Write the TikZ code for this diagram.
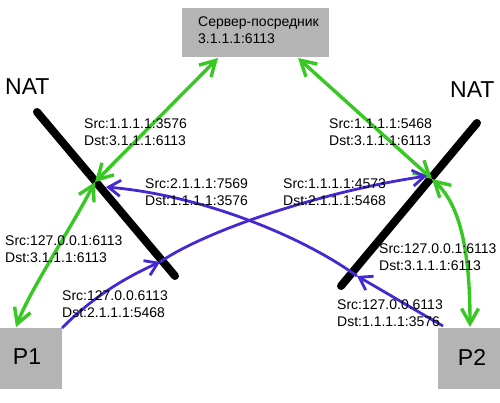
\documentclass[tikz,border=0pt]{standalone}
\usepackage{fontspec}
\setmainfont{Liberation Sans}
\usetikzlibrary{arrows.meta}
\definecolor{grn}{RGB}{55,200,35}
\definecolor{blu}{RGB}{70,40,210}
\definecolor{boxgray}{RGB}{180,180,180}
\begin{document}
\begin{tikzpicture}[x=1pt,y=-1pt,
  lbl/.style={anchor=west,align=left,inner sep=0pt,font=\fontsize{14}{17}\selectfont},
  big/.style={inner sep=0pt,font=\fontsize{23}{27}\selectfont},
  box/.style={fill=boxgray,draw=none,inner sep=0pt,anchor=north west},
  natline/.style={line width=8pt,line cap=round},
  garrow/.style={grn,line width=3.4pt,{Straight Barb[length=15pt,width=17pt]}-{Straight Barb[length=15pt,width=17pt]}},
  barrow/.style={blu,line width=2.8pt,-{Straight Barb[length=12pt,width=16pt]}},
]
\useasboundingbox (0,0) rectangle (500,403);
% boxes
\node[box,minimum width=147pt,minimum height=49pt] (srv) at (182,8) {};
\node[lbl] (srvtxt) at (198,30) {Сервер-посредник\\3.1.1.1:6113};
\node[box,minimum width=62pt,minimum height=61pt] (p1) at (0,328) {};
\node[big] (p1txt) at (27,357) {P1};
\node[box,minimum width=62pt,minimum height=61pt] (p2) at (438,328) {};
\node[big] (p2txt) at (472,357) {P2};
% NAT
\node[big,anchor=west] (natl) at (5,87) {NAT};
\node[big,anchor=west] (natr) at (450,90) {NAT};
\coordinate (nl1) at (37,112);
\coordinate (nl2) at (175,276);
\coordinate (nr1) at (477,123);
\coordinate (nr2) at (341,286);
\draw[natline] (nl1) -- (nl2);
\draw[natline] (nr1) -- (nr2);
% key points
\coordinate (srvL) at (218,58);
\coordinate (srvR) at (298,58);
\coordinate (gl) at (95,182);
\coordinate (gr) at (432,179);
\coordinate (p1top) at (16,327);
\coordinate (p2top) at (470,327);
\coordinate (p1c) at (62,328);
\coordinate (p2c) at (443,326);
\coordinate (bl) at (160,262);
\coordinate (br) at (357,276);
\coordinate (bltip) at (106,187);
\coordinate (brtip) at (427,176);
% green
\draw[garrow] (gl) -- (srvL);
\draw[garrow] (srvR) -- (gr);
\draw[garrow] (p1top) .. controls (30,290) and (70,230) .. (gl);
\draw[garrow] (p2top) .. controls (470,250) and (460,205) .. (gr);
% blue
\draw[barrow] (p1c) .. controls (90,300) and (120,280) .. (bl);
\draw[barrow] (bl) .. controls (210,228) and (330,190) .. (brtip);
\draw[barrow] (p2c) .. controls (415,310) and (385,292) .. (br);
\draw[barrow] (br) .. controls (300,235) and (200,195) .. (bltip);
% labels
\node[lbl] (l1) at (84,132.5) {Src:1.1.1.1:3576\\Dst:3.1.1.1:6113};
\node[lbl] (l2) at (145,192.5) {Src:2.1.1.1:7569\\Dst:1.1.1.1:3576};
\node[lbl] (l3) at (5,249) {Src:127.0.0.1:6113\\Dst:3.1.1.1:6113};
\node[lbl] (l4) at (62,304.5) {Src:127.0.0.6113\\Dst:2.1.1.1:5468};
\node[lbl] (r1) at (329,132.5) {Src:1.1.1.1:5468\\Dst:3.1.1.1:6113};
\node[lbl] (r2) at (283,192.5) {Src:1.1.1.1:4573\\Dst:2.1.1.1:5468};
\node[lbl] (r3) at (379,257.5) {Src:127.0.0.1:6113\\Dst:3.1.1.1:6113};
\node[lbl] (r4) at (337,313.5) {Src:127.0.0.6113\\Dst:1.1.1.1:3576};
\end{tikzpicture}
\end{document}
